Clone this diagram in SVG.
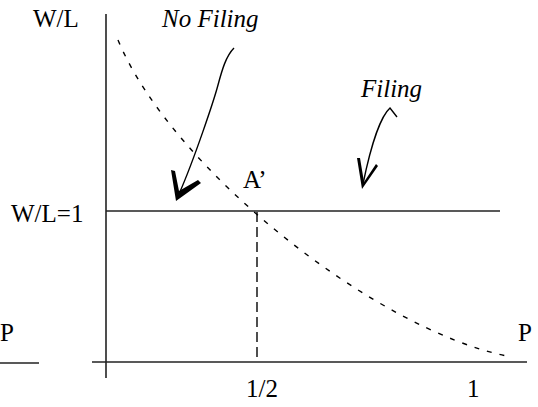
<svg xmlns="http://www.w3.org/2000/svg" width="538" height="407" viewBox="0 0 538 407">
<style>
text{font-family:"Liberation Serif","Times New Roman","DejaVu Serif",serif;font-size:25px;fill:#000}
.it{font-style:italic}
.ax{stroke:#222;stroke-width:1.6;fill:none}
.ln{stroke:#000;stroke-width:1.4;fill:none}
</style>
<rect width="538" height="407" fill="#fff"/>
<g id="axes">
<line class="ax" x1="106" y1="14" x2="106" y2="378"/>
<line class="ax" x1="92" y1="362" x2="527" y2="362"/>
<line class="ax" x1="106" y1="211" x2="500" y2="211"/>
<line class="ax" x1="0" y1="363" x2="39" y2="363"/>
<line class="ax" x1="257" y1="212" x2="257" y2="362" stroke-dasharray="10 5"/>
</g>
<g id="curve">
<path class="ln" d="M118,40 C172,170 377,330 507,356" stroke-dasharray="5 8" stroke-width="1.6"/>
</g>
<g id="arrows">
<path class="ln" d="M234,48 C226,56 222,70 218,85 S194,160 179,194"/>
<polygon points="171,170 175,171 179,191 198,180 201,183 176,201" fill="#000"/>
<path class="ln" d="M397,117 L390,108 C382,115 372,140 363,184"/>
<polygon points="357,158 360,158 364,182 376,164 378,166 362,189" fill="#000"/>
</g>
<g id="labels">
<text x="33" y="27">W/L</text>
<text class="it" x="162" y="27">No Filing</text>
<text class="it" x="361" y="97">Filing</text>
<text x="243" y="188">A’</text>
<text x="11" y="222">W/L=1</text>
<text x="0" y="341">P</text>
<text x="518" y="341">P</text>
<text x="246" y="397">1/2</text>
<text x="467" y="397">1</text>
</g>
</svg>
